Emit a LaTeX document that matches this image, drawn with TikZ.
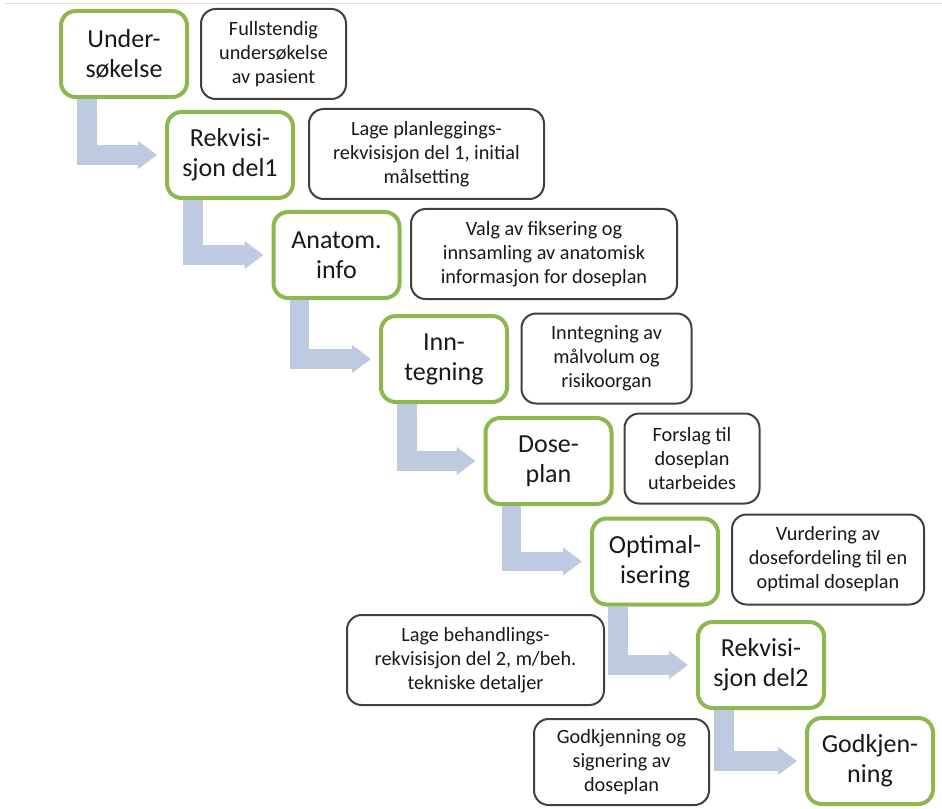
\documentclass[tikz,border=0pt]{standalone}
\usepackage{fontspec}
\setmainfont{Carlito}
\usetikzlibrary{arrows.meta}
\usetikzlibrary{calc}
\definecolor{phasegreen}{RGB}{141,184,80}
\definecolor{notegray}{RGB}{64,64,64}
\definecolor{flowblue}{RGB}{190,202,224}
\newcommand*{\inset}{28}
\newcommand*{\gap}{8}

\begin{document}
\begin{tikzpicture}[x=0.75pt,y=-0.75pt]
\tikzset{phase/.style={draw=phasegreen,line width=3pt,rounded corners=11pt,fill=white,align=center,inner sep=0pt,
    minimum width=94.5pt,minimum height=64.5pt,text=black!90,font=\fontsize{19.5}{22.5}\selectfont},
  note/.style={draw=notegray,line width=1.5pt,rounded corners=11pt,align=center,inner sep=0pt,
    minimum height=67.5pt,text=black!90,font=\fontsize{15.2}{18}\selectfont},
  flow/.style={draw=flowblue,line width=14.6pt,-{Triangle[length=14.25pt,width=20.25pt]}}};

    \useasboundingbox (0,0) rectangle (942,809);
    \draw[black!12,line width=0.75pt] (4,4) -- (942,4);

    % phases
    \node[phase] (unders) at (124,54) {Under-\\søkelse};
    \node[phase] (rekv1) at (230,155) {Rekvisi-\\sjon del1};
    \node[phase] (anatom) at (336.5,255) {Anatom.\\info};
    \node[phase] (inntegn) at (444,359) {Inn-\\tegning};
    \node[phase] (doseplan) at (548.5,461) {Dose-\\plan};
    \node[phase] (optimal) at (655,561.5) {Optimal-\\isering};
    \node[phase] (rekv2) at (761,665) {Rekvisi-\\sjon del2};
    \node[phase] (godkj) at (870,761) {Godkjen-\\ning};

    % descriptions
    \node[note,minimum width=108.75pt] (unders-txt) at (273.5,54) {Fullstendig\\undersøkelse\\av pasient};
    \node[note,minimum width=176.25pt] (rekv1-txt) at (426.5,154) {Lage planleggings-\\rekvisisjon del 1, initial\\målsetting};
    \node[note,minimum width=199.5pt] (anatom-txt) at (544,254) {Valg av fiksering og\\innsamling av anatomisk\\informasjon for doseplan};
    \node[note,minimum width=127.5pt] (inntegn-txt) at (606.5,358.5) {Inntegning av\\målvolum og\\risikoorgan};
    \node[note,minimum width=101.25pt] (doseplan-txt) at (692,458.5) {Forslag til\\doseplan\\utarbeides};
    \node[note,minimum width=144pt] (optimal-txt) at (828,559.5) {Vurdering av\\dosefordeling til en\\optimal doseplan};
    \node[note,minimum width=192.75pt] (rekv2-txt) at (475.5,660) {Lage behandlings-\\rekvisisjon del 2, m/beh.\\tekniske detaljer};
    \node[note,minimum width=131.25pt,minimum height=64.5pt] (godkj-txt) at (621.5,762) {Godkjenning og\\signering av\\doseplan};

    % arrows
    \draw[flow] ($(unders.south west)+(\inset,0)$) |- ($(rekv1.west)+(-\gap,0)$);
    \draw[flow] ($(rekv1.south west)+(\inset,0)$) |- ($(anatom.west)+(-\gap,0)$);
    \draw[flow] ($(anatom.south west)+(\inset,0)$) |- ($(inntegn.west)+(-\gap,0)$);
    \draw[flow] ($(inntegn.south west)+(\inset,0)$) |- ($(doseplan.west)+(-\gap,0)$);
    \draw[flow] ($(doseplan.south west)+(\inset,0)$) |- ($(optimal.west)+(-\gap,0)$);
    \draw[flow] ($(optimal.south west)+(\inset,0)$) |- ($(rekv2.west)+(-\gap,0)$);
    \draw[flow] ($(rekv2.south west)+(\inset,0)$) |- ($(godkj.west)+(-\gap,0)$);
\end{tikzpicture}
\end{document}
